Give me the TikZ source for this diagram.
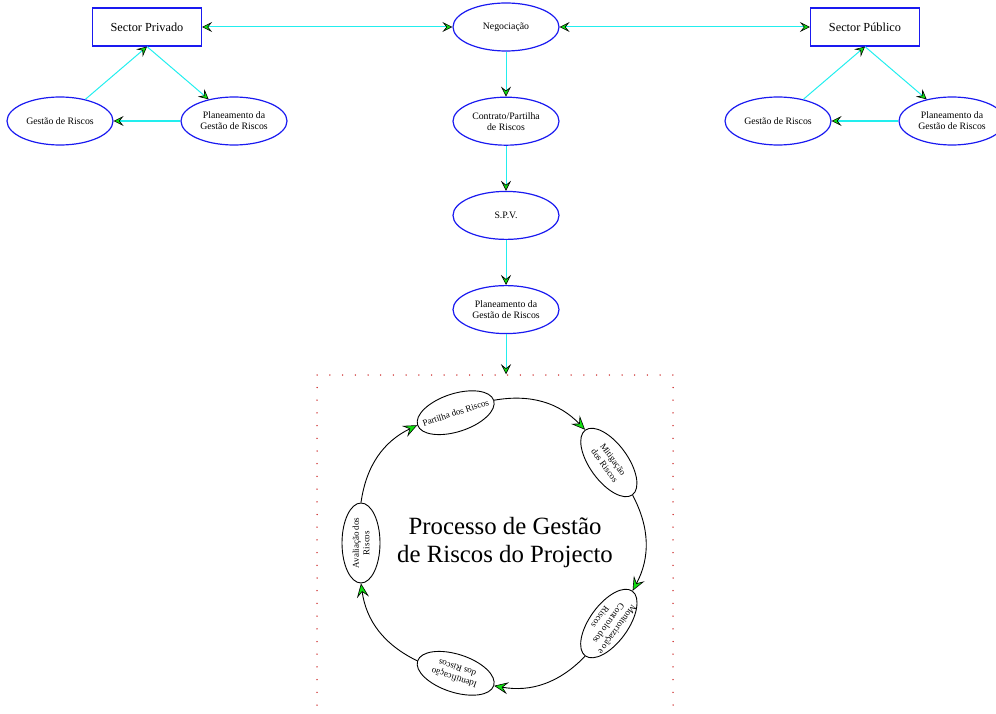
\documentclass[tikz,border=0pt]{standalone}
\usepackage{fontspec}
\setmainfont{Liberation Serif}
\usetikzlibrary{arrows.meta, positioning, shapes.geometric, calc}
\definecolor{nodeblue}{HTML}{1A1AF0}
\definecolor{linkcyan}{HTML}{22EEEE}
\definecolor{tipgreen}{HTML}{10E010}
\definecolor{framered}{HTML}{C81818}
\tikzset{
  gtip/.tip={Stealth[length=10pt, width=10pt, inset=4pt, line width=0.6pt, color=black, fill=tipgreen]},
  ctip/.tip={Stealth[length=14pt, width=12pt, inset=5.5pt, line width=0.6pt, color=black, fill=tipgreen]},
  sector/.style={rectangle, draw=nodeblue, line width=1.2pt, minimum width=109pt, minimum height=38pt,
    font=\fontsize{12.3}{14}\selectfont},
  stage/.style={ellipse, draw=nodeblue, line width=1.2pt, minimum width=106pt, minimum height=48pt,
    inner sep=0pt, align=center, font=\fontsize{9.8}{11}\selectfont},
  phase/.style={ellipse, draw=black, line width=0.9pt, minimum width=80pt, minimum height=38pt,
    inner xsep=-8pt, inner ysep=0pt, align=center, font=\fontsize{9}{10.5}\selectfont},
  link/.style={-gtip, linkcyan, line width=1pt},
  linkboth/.style={link, gtip-gtip},
  cyclink/.style={-ctip, black, line width=0.9pt},
  procframe/.style={draw=framered, line width=1.5pt, dash pattern=on 0pt off 12.7pt, line cap=round,
    minimum width=356pt, minimum height=355pt},
}

\begin{document}
\begin{tikzpicture}[x=1pt, y=1pt, node distance=45pt]
\useasboundingbox (0,0) rectangle (996,-714);
\node[procframe] (procbox) at (495,-552.5) {};
% topo: sectores e negociacao
\node[sector] (privado) at (147,-27) {Sector Privado};
\node[stage] (gestpriv) at (60,-121) {Gestão de Riscos};
\node[stage] (planpriv) at (234,-121) {Planeamento da\\Gestão de Riscos};
\node[stage] (negoc) at (506,-27) {Negociação};
\node[stage, below=of negoc] (contrato) {Contrato/Partilha\\de Riscos};
\node[stage, below=of contrato] (spv) {S.P.V.};
\node[stage, below=of spv] (planspv) {Planeamento da\\Gestão de Riscos};
\node[sector] (publico) at (865,-27) {Sector Público};
\node[stage] (gestpub) at (778,-121) {Gestão de Riscos};
\node[stage] (planpub) at (952,-121) {Planeamento da\\Gestão de Riscos};
\draw[linkboth] (privado) -- (negoc);
\draw[linkboth] (negoc) -- (publico);
\draw[link] (gestpriv) -- (privado.south);
\draw[link] (privado.south) -- (planpriv);
\draw[link, line width=1.8pt] (planpriv) -- (gestpriv);
\draw[link] (gestpub) -- (publico.south);
\draw[link] (publico.south) -- (planpub);
\draw[link, line width=1.8pt] (planpub) -- (gestpub);
\draw[link] (negoc) -- (contrato);
\draw[link] (contrato) -- (spv);
\draw[link] (spv) -- (planspv);
\draw[link] (planspv) -- (planspv |- procbox.north);
% ciclo do processo
\coordinate (ciclo) at (498,-543);
\node[font=\fontsize{24.8}{28}\selectfont, align=center] (titulo) at (505,-543)
  {Processo de Gestão\\de Riscos do Projecto};
\foreach \ang/\nm/\txt in {180/aval/{Avaliação dos\\Riscos}, 108/part/{Partilha dos Riscos},
    36/mitig/{Mitigação\\dos Riscos}, -36/monit/{Monitorização e\\Controlo dos\\Riscos},
    -108/ident/{Identificação\\dos Riscos}}
  \node[phase, rotate=\ang-90] (\nm) at ($(ciclo)+(\ang:137)$) {\txt};
\draw[cyclink] (aval.east) to[bend left=28] (part.west);
\draw[cyclink] (part.east) to[bend left=28] (mitig.west);
\draw[cyclink] (mitig.east) to[bend left=28] (monit.west);
\draw[cyclink] (monit.east) to[bend left=28] (ident.west);
\draw[cyclink] (ident.east) to[bend left=28] (aval.west);
\end{tikzpicture}
\end{document}
